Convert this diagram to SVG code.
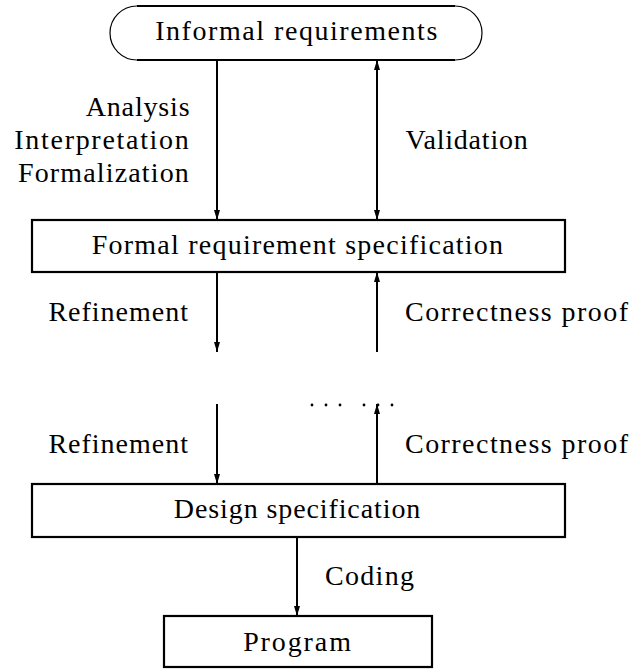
<svg xmlns="http://www.w3.org/2000/svg" width="631" height="671" viewBox="0 0 631 671">
<style>
.box{fill:none;stroke:#000;stroke-width:2.2}
.arc{fill:none;stroke:#000;stroke-width:1.2}
.ln{fill:none;stroke:#000;stroke-width:2}
.t{font-family:'Liberation Serif',serif;font-size:28px;fill:#000}
.c{text-anchor:middle}
.r{text-anchor:end}
</style>
<defs>
<marker id="ah" viewBox="0 0 10 6" refX="10" refY="3" markerWidth="10" markerHeight="6" markerUnits="userSpaceOnUse" orient="auto-start-reverse">
<path d="M0,0 L10,3 L0,6 z" fill="#000"/>
</marker>
</defs>
<rect width="631" height="671" fill="#fff"/>
<g id="informal">
<path class="arc" d="M137,6 A27,27 0 0 0 137,60"/>
<path class="arc" d="M455,6 A27,27 0 0 1 455,60"/>
<line class="box" x1="137" y1="6" x2="455" y2="6"/>
<line class="box" x1="137" y1="60" x2="455" y2="60"/>
<text class="t c" x="297" y="40" letter-spacing="1.55">Informal requirements</text>
</g>
<g id="formal">
<rect class="box" x="32" y="220" width="533" height="52"/>
<text class="t c" x="298" y="254" letter-spacing="1.23">Formal requirement specification</text>
</g>
<g id="design">
<rect class="box" x="32" y="484" width="533" height="53"/>
<text class="t c" x="297.5" y="518" letter-spacing="0.9">Design specification</text>
</g>
<g id="program">
<rect class="box" x="164" y="616" width="268" height="51"/>
<text class="t c" x="298" y="651" letter-spacing="1.9">Program</text>
</g>
<g id="connectors">
<line class="ln" x1="217" y1="60" x2="217" y2="220" marker-end="url(#ah)"/>
<line class="ln" x1="377" y1="60" x2="377" y2="220" marker-start="url(#ah)" marker-end="url(#ah)"/>
<line class="ln" x1="217" y1="272" x2="217" y2="352" marker-end="url(#ah)"/>
<line class="ln" x1="377" y1="352" x2="377" y2="272" marker-end="url(#ah)"/>
<line class="ln" x1="217" y1="404" x2="217" y2="484" marker-end="url(#ah)"/>
<line class="ln" x1="377" y1="484" x2="377" y2="404" marker-end="url(#ah)"/>
<line class="ln" x1="297" y1="537" x2="297" y2="616" marker-end="url(#ah)"/>
</g>
<g id="labels">
<text class="t r" x="190.5" y="116" letter-spacing="0.85">Analysis</text>
<text class="t r" x="190.5" y="149" letter-spacing="1.7">Interpretation</text>
<text class="t r" x="190" y="182" letter-spacing="1.15">Formalization</text>
<text class="t" x="405.5" y="149" letter-spacing="0.8">Validation</text>
<text class="t r" x="189" y="321" letter-spacing="1.0">Refinement</text>
<text class="t" x="405" y="321" letter-spacing="1.45">Correctness proof</text>
<text class="t r" x="189" y="453" letter-spacing="1.0">Refinement</text>
<text class="t" x="405" y="453" letter-spacing="1.45">Correctness proof</text>
<text class="t" x="325" y="585" letter-spacing="1.3">Coding</text>
</g>
<g id="dots" fill="#000">
<circle cx="312" cy="405" r="1.4"/>
<circle cx="326" cy="405" r="1.4"/>
<circle cx="340" cy="405" r="1.4"/>
<circle cx="364" cy="405" r="1.4"/>
<circle cx="378" cy="405" r="1.4"/>
<circle cx="392" cy="405" r="1.4"/>
</g>
</svg>
